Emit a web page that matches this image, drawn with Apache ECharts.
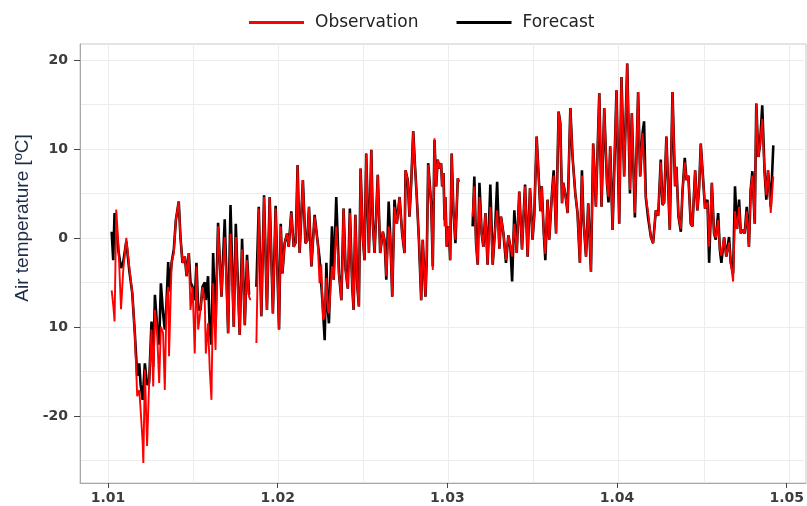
<!DOCTYPE html>
<html>
<head>
<meta charset="utf-8">
<script src="https://cdn.jsdelivr.net/npm/echarts@6/dist/echarts.min.js"></script>
<style>
html,body{margin:0;padding:0;background:#fff;}
#chart{width:807px;height:506px;}
</style>
</head>
<body>
<div id="chart"></div>
<script>
// ---- data ----
const seriesNames = ['Observation', 'Forecast'];
const times = [
1.01022,1.01031,1.01039,1.01049,1.01062,1.01077,1.01090,1.01108,1.01125,1.01143,
1.01158,1.01172,1.01184,1.01192,1.01204,1.01208,1.01217,1.01230,1.01242,1.01256,
1.01266,1.01276,1.01289,1.01301,1.01311,1.01324,1.01334,1.01344,1.01354,1.01359,
1.01374,1.01387,1.01399,1.01416,1.01426,1.01438,1.01452,1.01462,1.01475,1.01485,
1.01497,1.01510,1.01520,1.01530,1.01544,1.01555,1.01569,1.01575,1.01588,1.01598,
1.01608,1.01618,1.01632,1.01647,1.01667,1.01686,1.01706,1.01720,1.01739,1.01751,
1.01774,1.01788,1.01804,1.01817,1.01829,1.01837,1.01853,1.01872,1.01886,1.01901,
1.01917,1.01934,1.01950,1.01969,1.01985,1.02005,1.02015,1.02025,1.02038,1.02052,
1.02062,1.02077,1.02091,1.02103,1.02114,1.02126,1.02145,1.02160,1.02171,1.02181,
1.02195,1.02214,1.02232,1.02243,1.02253,1.02263,1.02273,1.02283,1.02292,1.02298,
1.02316,1.02326,1.02341,1.02357,1.02371,1.02384,1.02396,1.02409,1.02421,1.02435,
1.02443,1.02453,1.02465,1.02474,1.02484,1.02497,1.02507,1.02517,1.02533,1.02547,
1.02556,1.02566,1.02585,1.02599,1.02615,1.02625,1.02635,1.02649,1.02658,1.02670,
1.02683,1.02697,1.02713,1.02728,1.02742,1.02748,1.02761,1.02771,1.02781,1.02793,
1.02805,1.02814,1.02826,1.02840,1.02849,1.02865,1.02873,1.02881,1.02899,1.02908,
1.02918,1.02928,1.02937,1.02947,1.02957,1.02963,1.02971,1.02977,1.02982,1.02990,
1.03002,1.03010,1.03019,1.03029,1.03041,1.03055,1.03060,1.03100,1.03142,1.03152,
1.03162,1.03172,1.03182,1.03195,1.03205,1.03217,1.03230,1.03246,1.03260,1.03274,
1.03286,1.03299,1.03309,1.03323,1.03338,1.03352,1.03364,1.03374,1.03387,1.03401,
1.03416,1.03432,1.03450,1.03465,1.03479,1.03494,1.03504,1.03518,1.03530,1.03540,
1.03548,1.03560,1.03569,1.03582,1.03592,1.03608,1.03618,1.03632,1.03647,1.03657,
1.03667,1.03674,1.03686,1.03700,1.03716,1.03729,1.03745,1.03758,1.03772,1.03784,
1.03793,1.03808,1.03821,1.03837,1.03850,1.03866,1.03886,1.03899,1.03915,1.03931,
1.03940,1.03950,1.03964,1.03987,1.04003,1.04016,1.04032,1.04050,1.04066,1.04077,
1.04095,1.04114,1.04126,1.04140,1.04149,1.04159,1.04173,1.04189,1.04202,1.04218,
1.04232,1.04247,1.04257,1.04267,1.04280,1.04290,1.04300,1.04316,1.04331,1.04339,
1.04351,1.04365,1.04374,1.04388,1.04398,1.04409,1.04423,1.04433,1.04449,1.04462,
1.04472,1.04482,1.04496,1.04507,1.04521,1.04531,1.04547,1.04560,1.04570,1.04584,
1.04594,1.04603,1.04619,1.04632,1.04648,1.04658,1.04672,1.04683,1.04695,1.04707,
1.04717,1.04728,1.04740,1.04752,1.04765,1.04775,1.04785,1.04799,1.04808,1.04820,
1.04830,1.04843,1.04857,1.04867,1.04877,1.04893,1.04908
];
const observation = [
-5.9,-7.5,-9.4,3.2,-1.0,-8.0,-3.6,0.0,-3.2,-6.2,
-10.7,-17.8,-17.1,-19.3,-23.0,-25.3,-14.8,-23.4,-16.3,-10.3,
-16.7,-8.1,-10.7,-16.3,-10.0,-10.7,-17.1,-7.3,-5.5,-13.3,
-2.8,-1.7,2.0,4.1,0.1,-2.8,-2.1,-4.3,-1.7,-8.1,
-5.5,-13.0,-3.2,-10.3,-8.1,-5.5,-7.3,-13.0,-9.6,-14.8,
-18.2,-5.1,-12.6,1.3,-6.6,0.1,-10.7,0.5,-10.0,0.1,
-10.9,-1.3,-9.8,-2.5,-6.6,-7.0,null,-11.8,3.3,-8.8,
4.6,-8.1,4.6,-8.5,3.3,-10.3,1.3,-4.0,-0.6,0.5,
-1.0,2.8,-1.0,-0.5,8.2,-1.7,6.5,-0.6,-0.3,3.5,
-3.2,2.4,-0.5,-5.1,-3.0,-9.2,-8.8,-4.5,-8.1,-8.5,
-3.2,-4.7,1.3,-4.0,-7.0,3.3,-3.6,-5.7,2.8,-5.5,
-8.1,2.6,-5.5,-7.7,7.8,0.1,-2.5,9.5,-1.7,9.9,
1.6,-1.7,7.1,-1.7,0.7,-0.3,-4.3,1.3,0.2,-6.6,
3.5,1.6,4.6,0.5,-1.7,7.6,6.5,2.4,6.0,12.0,
7.6,4.6,0.0,-7.0,-0.2,-6.6,-2.0,8.2,3.7,-3.6,
11.2,5.8,8.8,7.8,8.4,5.8,7.3,1.3,4.6,-1.0,
1.3,-2.5,9.5,3.1,-0.2,6.7,6.3,null,2.4,5.8,
-0.6,-3.0,4.6,0.5,-1.0,2.8,-3.0,3.5,-3.0,1.0,
3.1,-1.2,2.4,0.5,-2.5,0.3,-1.0,-2.1,1.6,-1.7,
5.2,-1.3,5.8,-2.1,5.6,-0.2,2.5,11.4,6.9,3.0,
5.8,0.5,-1.8,4.3,-0.2,5.0,7.0,0.5,14.2,12.9,
3.9,6.2,5.0,2.8,14.6,9.1,5.0,2.8,-2.8,7.0,
2.0,-2.1,3.9,-3.8,10.6,3.5,16.3,3.5,14.6,6.2,
4.6,10.3,0.9,16.6,1.6,18.1,6.9,19.6,5.4,14.0,
2.8,16.4,6.9,11.8,12.0,4.6,2.8,0.1,-0.6,3.1,
2.5,8.5,3.7,4.0,11.4,6.0,0.9,16.4,5.8,8.0,
2.4,1.0,5.0,8.5,6.5,7.0,1.6,1.3,7.6,3.1,
5.5,10.6,6.5,3.3,4.0,-1.0,6.2,0.5,0.0,2.0,
-1.3,-2.0,0.1,-2.1,-0.5,-2.8,-4.9,3.0,1.0,3.5,
0.5,0.9,0.5,3.0,-1.0,5.4,7.0,1.6,15.1,9.1,
10.5,13.4,7.3,4.8,7.6,2.8,6.9
];
const forecast = [
0.7,-2.5,2.8,1.5,-1.5,-3.4,-2.7,-0.4,-3.6,-6.2,
-10.7,-15.5,-14.1,-16.5,-18.2,-17.0,-14.1,-16.5,-16.3,-9.4,
-14.5,-6.4,-10.0,-12.0,-5.1,-8.5,-10.3,-7.3,-2.7,-6.0,
-2.8,-1.3,2.0,4.1,0.1,-2.8,-2.1,-4.3,-1.7,-5.0,
-5.5,-7.0,-2.8,-8.0,-8.1,-5.5,-5.0,-7.0,-4.3,-10.3,
-12.0,-1.7,-10.0,1.7,-6.6,2.1,-10.7,3.7,-10.0,1.6,
-10.9,-0.1,-9.8,-1.9,-6.4,null,null,-5.5,3.5,-8.8,
4.8,-8.1,4.6,-8.5,3.6,-10.3,1.6,-4.0,-0.6,0.5,
-1.0,3.0,-1.0,-0.5,8.2,-1.7,6.5,-0.6,-0.3,3.5,
-3.2,2.6,-0.5,-2.3,-2.3,-8.0,-11.5,-2.8,-8.1,-9.6,
1.3,-4.7,4.6,-4.0,-7.0,3.3,-3.6,-5.7,3.3,-5.5,
-8.1,2.6,-5.5,-7.7,7.8,0.1,-2.5,9.5,-1.7,9.9,
1.6,-1.7,7.1,-1.7,0.7,-0.3,-4.7,4.1,0.2,-6.6,
4.3,1.6,4.6,0.5,-1.7,7.6,6.5,2.4,6.0,12.0,
7.6,4.6,0.0,-7.0,-0.2,-6.6,-2.0,8.4,3.7,-3.2,
11.0,5.8,8.8,7.8,8.4,5.8,7.3,2.0,4.6,-1.0,
1.3,-2.5,9.5,3.1,-0.6,6.7,6.3,null,1.3,6.9,
-0.6,-3.0,6.2,0.5,-1.0,2.8,-3.0,6.0,-3.0,1.0,
6.3,-1.2,2.4,0.5,-2.8,0.3,-1.0,-4.9,3.1,-1.7,
5.2,-1.3,6.0,-2.1,5.6,-0.2,2.5,11.4,6.9,3.0,
5.8,0.5,-2.5,4.3,-0.2,5.0,7.6,0.5,14.2,12.9,
3.9,6.2,5.0,2.8,14.6,9.1,5.0,2.8,-2.8,7.6,
2.0,-2.1,3.9,-3.8,10.6,3.5,16.3,3.5,14.6,6.2,
4.0,10.3,0.9,16.6,1.6,18.1,6.9,19.6,5.0,14.0,
2.3,16.4,6.9,11.8,13.1,4.6,2.2,0.1,-0.6,3.1,
2.5,8.8,3.7,4.0,11.4,6.0,0.9,16.4,5.8,8.0,
2.4,0.7,5.0,9.0,6.5,7.0,1.6,1.3,7.6,3.1,
5.5,10.6,6.5,3.3,4.3,-2.8,6.2,0.5,-0.2,2.8,
-1.3,-2.8,0.1,-2.1,0.1,-2.8,-4.0,5.8,1.0,4.3,
0.5,0.9,0.5,3.5,-1.0,5.4,7.5,1.6,15.1,9.1,
10.5,14.9,7.3,4.3,7.6,3.5,10.4
];
const xTickValues = [1.01, 1.02, 1.03, 1.04, 1.05];
const xTickLabels = ['1.01', '1.02', '1.03', '1.04', '1.05'];
const xGridValues = [1.01, 1.015, 1.02, 1.025, 1.03, 1.035, 1.04, 1.045, 1.05];
const yTickValues = [-20, -10, 0, 10, 20];
const yTickLabels = ['-20', '10', '0', '10', '20'];
const yGridValues = [-25, -20, -15, -10, -5, 0, 5, 10, 15, 20];
const yTitle = 'Air temperature [ºC]';
const xMin = 1.00836, xMax = 1.05100;
const yMin = -27.55, yMax = 21.8;

// ---- chart ----
function pick(vals, labels, v) {
  const i = vals.findIndex(t => Math.abs(t - v) < 1e-7);
  return i >= 0 ? labels[i] : '';
}
const labelFont = { fontFamily: 'DejaVu Sans', fontWeight: 'bold', fontSize: 14, color: '#3c3c3c' };
const axisLineStyle = { color: '#a8a8a8', width: 1 };
const tickStyle = { color: '#444444', width: 1 };
const chart = echarts.init(document.getElementById('chart'), null, { renderer: 'canvas' });
chart.setOption({
  animation: false,
  backgroundColor: '#ffffff',
  grid: [
    // plotting panel
    { left: 80, right: 1, top: 44, bottom: 23, show: true, borderColor: '#c9c9c9', borderWidth: 1 },
    // frame spanning exactly the labelled tick range (first to last tick)
    { left: 108, right: 17, top: 60, bottom: 90, show: false }
  ],
  legend: {
    data: seriesNames,
    left: 244, top: 9,
    icon: 'rect', itemWidth: 55, itemHeight: 3, itemGap: 38,
    textStyle: { fontFamily: 'DejaVu Sans', fontSize: 17, color: '#222', padding: [0, 0, 0, 6] }
  },
  graphic: [{
    type: 'text', x: 23, y: 218, rotation: Math.PI / 2,
    style: { text: yTitle, fontFamily: "'Liberation Sans Narrow', 'Liberation Sans', sans-serif", fontSize: 19,
             fill: '#1f2c47', textAlign: 'center', textVerticalAlign: 'middle' }
  }],
  xAxis: [{
    gridIndex: 0, type: 'value', min: xMin, max: xMax, position: 'bottom',
    axisLine: { show: true, onZero: false, lineStyle: axisLineStyle },
    axisTick: { show: false, customValues: xGridValues },
    axisLabel: { show: false },
    splitLine: { show: true, lineStyle: { color: '#ececec', width: 1 } }
  }, {
    gridIndex: 1, type: 'value', min: xTickValues[0], max: xTickValues[xTickValues.length - 1],
    interval: 0.01, position: 'bottom', offset: 67,
    axisLine: { show: false, onZero: false },
    axisTick: { show: true, inside: false, length: 5, lineStyle: tickStyle },
    axisLabel: Object.assign({ show: true, margin: 8,
      formatter: v => pick(xTickValues, xTickLabels, v) }, labelFont),
    splitLine: { show: false }
  }],
  yAxis: [{
    gridIndex: 0, type: 'value', min: yMin, max: yMax, position: 'left',
    axisLine: { show: true, onZero: false, lineStyle: axisLineStyle },
    axisTick: { show: false, customValues: yGridValues },
    axisLabel: { show: false },
    splitLine: { show: true, lineStyle: { color: '#ececec', width: 1 } }
  }, {
    gridIndex: 1, type: 'value', min: yTickValues[0], max: yTickValues[yTickValues.length - 1],
    interval: 10, position: 'left', offset: 28,
    axisLine: { show: false, onZero: false },
    axisTick: { show: true, inside: false, length: 6, lineStyle: tickStyle },
    axisLabel: Object.assign({ show: true, margin: 12,
      formatter: v => pick(yTickValues, yTickLabels, v) }, labelFont),
    splitLine: { show: false }
  }],
  series: [{
    name: 'Forecast', type: 'line', xAxisIndex: 0, yAxisIndex: 0,
    data: times.map((t, i) => [t, forecast[i]]),
    showSymbol: false, symbol: 'none', connectNulls: false,
    color: '#000000', lineStyle: { color: '#000000', width: 2.6 }, z: 2
  }, {
    name: 'Observation', type: 'line', xAxisIndex: 0, yAxisIndex: 0,
    data: times.map((t, i) => [t, observation[i]]),
    showSymbol: false, symbol: 'none', connectNulls: false,
    color: '#ff0000', lineStyle: { color: '#ff0000', width: 1.9 }, z: 3
  }]
});
</script>
</body>
</html>
